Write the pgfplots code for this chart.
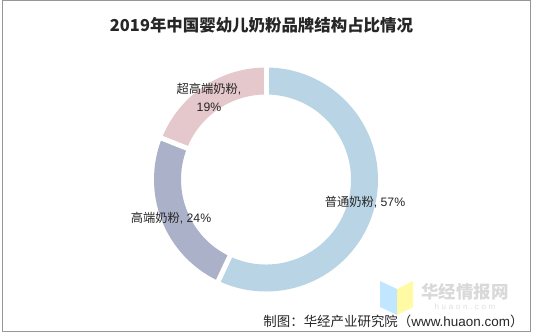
\documentclass[border=0pt]{standalone}
\usepackage{pgfplots}
\usepackage{pgfplotstable}
\pgfplotsset{compat=1.18}
\usepackage{fontspec}
\setmainfont{Liberation Sans}
\newfontfamily\cjk{Noto Sans CJK SC}
\definecolor{cblue}{RGB}{185,213,229}
\definecolor{cgray}{RGB}{171,177,201}
\definecolor{cpink}{RGB}{229,200,203}
\definecolor{frame}{RGB}{150,150,150}
\pgfplotstableread{
label pct
putong 57
gaoduan 24
chaogaoduan 19
}\shares
\begin{document}
\begin{tikzpicture}
\pgfplotstablegetelem{0}{pct}\of\shares \let\pA\pgfplotsretval
\pgfplotstablegetelem{1}{pct}\of\shares \let\pB\pgfplotsretval
\pgfplotstablegetelem{2}{pct}\of\shares \let\pC\pgfplotsretval
\pgfmathsetmacro\aA{90-\pA*3.6}
\pgfmathsetmacro\aB{\aA-\pB*3.6}
\pgfmathsetmacro\aC{\aB-\pC*3.6}
\begin{axis}[at={(0,0)}, anchor=south west, x=1bp, y=1bp,
  xmin=0, xmax=533, ymin=0, ymax=335, hide axis, clip=false, scale only axis]
\path (axis cs:0,0) rectangle (axis cs:533,335);
\draw[frame, line width=1bp] (axis cs:2,3.5) rectangle (axis cs:530.5,334);
% donut segments
\fill[cblue] (axis cs:266,155.5) ++(90:112bp) arc[start angle=90,end angle=\aA,radius=112bp]
   -- ++(\aA:-27bp) arc[start angle=\aA,end angle=90,radius=85bp] -- cycle;
\fill[cgray] (axis cs:266,155.5) ++(\aA:112bp) arc[start angle=\aA,end angle=\aB,radius=112bp]
   -- ++(\aB:-27bp) arc[start angle=\aB,end angle=\aA,radius=85bp] -- cycle;
\fill[cpink] (axis cs:266,155.5) ++(\aB:112bp) arc[start angle=\aB,end angle=\aC,radius=112bp]
   -- ++(\aC:-27bp) arc[start angle=\aC,end angle=\aB,radius=85bp] -- cycle;
\draw[white, line width=5bp] (axis cs:266,155.5) ++(90:80bp) -- ++(90:40bp);
\draw[white, line width=5bp] (axis cs:266,155.5) ++(\aA:80bp) -- ++(\aA:40bp);
\draw[white, line width=5bp] (axis cs:266,155.5) ++(\aB:80bp) -- ++(\aB:40bp);
% labels
\node[align=center, font=\fontsize{12.3}{18.5}\selectfont, text=black!85] at (axis cs:209,237.5) {{\cjk 超高端奶粉}, \\ 19\%};
\node[font=\fontsize{12.3}{14}\selectfont, text=black!85] at (axis cs:171,117) {{\cjk 高端奶粉}, 24\%};
\node[font=\fontsize{12.3}{14}\selectfont, text=black!85] at (axis cs:365,133) {{\cjk 普通奶粉}, 57\%};
% title
\node[font=\cjk\bfseries\fontsize{16.5}{20}\selectfont, text=black!85] at (axis cs:261.5,309.5) {2019年中国婴幼儿奶粉品牌结构占比情况};
% watermark
\fill[blue!40!cyan!30, opacity=0.8] (axis cs:380,54) -- (axis cs:397,46) -- (axis cs:397,20) -- (axis cs:380,28) -- cycle;
\fill[yellow!45, opacity=0.8] (axis cs:397,46) -- (axis cs:413,54) -- (axis cs:413,28) -- (axis cs:397,20) -- cycle;
\node[font=\cjk\bfseries\fontsize{17.5}{20}\selectfont, text=black!15] at (axis cs:465,43) {华经情报网};
\node[font=\fontsize{8}{10}\selectfont, text=black!13] at (axis cs:465,28) {h\,\,u\,\,a\,\,o\,\,n\,\,.\,\,c\,\,o\,\,m};
% source
\node[anchor=east, font=\fontsize{13.5}{15}\selectfont, text=black!85] at (axis cs:527,14) {{\cjk 制图：华经产业研究院（}www.huaon.com{\cjk ）}};
\end{axis}
\end{tikzpicture}
\end{document}
